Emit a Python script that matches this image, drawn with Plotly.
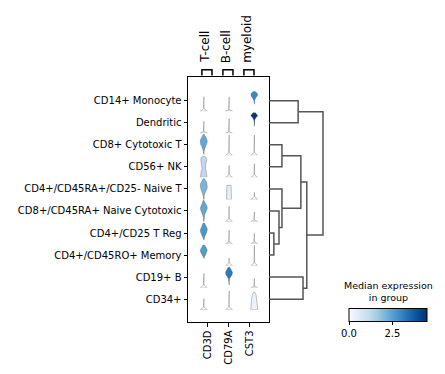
import numpy as np
import plotly.graph_objects as go

# ---------------- data ----------------
CLUSTERS = ["CD14+ Monocyte", "Dendritic", "CD8+ Cytotoxic T", "CD56+ NK",
            "CD4+/CD45RA+/CD25- Naive T", "CD8+/CD45RA+ Naive Cytotoxic",
            "CD4+/CD25 T Reg", "CD4+/CD45RO+ Memory", "CD19+ B", "CD34+"]
GENES = ["CD3D", "CD79A", "CST3"]
GENE_GROUPS = ["T-cell", "B-cell", "myeloid"]
GROUP_GENE_INDEX = [0, 1, 2]

# expression grid on which violin densities are given (width, 1 = widest)
LEVELS = [0, 0.3, 0.6, 1.0, 1.5, 2.0, 2.5, 3.0, 3.5, 4.0, 4.5, 5.0]
TRI = [1.0, 0.45, 0.08, 0.05, 0.05, 0.05, 0.05, 0.05, 0.05, 0.05, 0.05, 0.05]
TEE = [1.0, 0.12, 0.05, 0.05, 0.05, 0.05, 0.05, 0.05, 0.05, 0.05, 0.05, 0.05]

CD3D_DENSITY = [
    TRI, TEE,
    [0.08, 0.08, 0.1, 0.12, 0.3, 0.55, 0.9, 1.0, 0.95, 0.7, 0.3, 0.0],
    [0.9, 0.9, 0.9, 0.85, 0.7, 0.5, 0.45, 0.55, 0.75, 0.85, 0.7, 0.0],
    [0.1, 0.1, 0.1, 0.15, 0.4, 0.7, 0.95, 1.0, 0.95, 0.75, 0.35, 0.0],
    [0.08, 0.08, 0.08, 0.1, 0.25, 0.5, 0.8, 1.0, 0.9, 0.6, 0.3, 0.0],
    [0.0, 0.0, 0.0, 0.08, 0.25, 0.55, 0.85, 1.0, 0.95, 0.6, 0.25, 0.0],
    [0.0, 0.0, 0.0, 0.0, 0.08, 0.2, 0.55, 0.85, 1.0, 0.75, 0.3, 0.0],
    TRI, TRI,
]
CD3D_MIN = [0, 0, 0.2, 0, 0, 0, 0.8, 1.6, 0, 0]
CD3D_MAX = [3.3, 2.7, 4.7, 4.8, 4.7, 4.9, 4.65, 4.65, 3.2, 2.5]
CD3D_MEDIAN = [0, 0, 2.4, 1.2, 2.1, 2.4, 2.7, 2.6, 0, 0]

CD79A_DENSITY = [
    TEE, TEE, TRI, TRI,
    [0.72, 0.72, 0.71, 0.7, 0.68, 0.66, 0.63, 0.6, 0.57, 0.5, 0.4, 0.3],
    TRI, TEE, TRI,
    [0.0, 0.0, 0.06, 0.06, 0.08, 0.15, 0.55, 0.9, 1.0, 0.75, 0.3, 0.0],
    TRI,
]
CD79A_MIN = [0, 0, 0, 0, 0, 0, 0, 0, 0.55, 0]
CD79A_MAX = [3.2, 3.3, 4.6, 2.7, 3.2, 3.4, 3.0, 1.7, 4.65, 4.3]
CD79A_MEDIAN = [0, 0, 0, 0, 0.5, 0, 0, 0, 3.2, 0]

CST3_DENSITY = [
    [0.0, 0.0, 0.0, 0.0, 0.05, 0.08, 0.12, 0.4, 0.9, 0.9, 0.25, 0.0],
    [0.0, 0.0, 0.0, 0.0, 0.05, 0.06, 0.08, 0.12, 0.45, 1.0, 0.5, 0.0],
    TRI, TRI, TRI, TEE, TEE, TRI, TEE,
    [1.0, 0.95, 0.92, 0.9, 0.85, 0.8, 0.75, 0.7, 0.5, 0.1, 0.0, 0.0],
]
CST3_MIN = [1.6, 1.6, 0, 0, 0, 0, 0, 0, 0, 0]
CST3_MAX = [4.5, 4.65, 4.6, 3.1, 1.6, 2.2, 2.3, 4.6, 2.1, 4.0]
CST3_MEDIAN = [3.0, 4.4, 0, 0, 0, 0, 0, 0, 0, 0.3]

# dendrogram linkage: (child a, child b, height); leaves 0..9, merges 10..
LINK_A = [0, 2, 6, 5, 4, 11, 8, 15, 10]
LINK_B = [1, 3, 7, 12, 13, 14, 9, 16, 17]
LINK_H = [0.54, 0.24, 0.09, 0.185, 0.24, 0.59, 0.63, 0.70, 1.0]

CBAR_MIN, CBAR_MAX = 0.0, 4.5
CBAR_TICKS = [0.0, 2.5]
CBAR_TITLE = "Median expression<br>in group"

# ---------------- styling helpers ----------------
W, H = 445, 374
BLUES = ["#f7fbff", "#deebf7", "#c6dbef", "#9ecae1", "#6baed6",
         "#4292c6", "#2171b5", "#08519c", "#08306b"]
BLUES_SCALE = [[i / 8, c] for i, c in enumerate(BLUES)]


def blues(v):
    t = min(max((v - CBAR_MIN) / (CBAR_MAX - CBAR_MIN), 0), 1) * 8
    i = min(int(t), 7)
    f = t - i
    a = [int(BLUES[i][k:k + 2], 16) for k in (1, 3, 5)]
    b = [int(BLUES[i + 1][k:k + 2], 16) for k in (1, 3, 5)]
    c = [round(a[k] + (b[k] - a[k]) * f) for k in range(3)]
    return f"rgb({c[0]},{c[1]},{c[2]})"


def px_x(p):
    return p / W


def px_y(p):
    return 1 - p / H


HALF_W = 0.139          # widest half-width in violin-axis units
ROW_TICK0, ROW_STEP = 100.7, 22.05

fig = go.Figure()

DENS = [CD3D_DENSITY, CD79A_DENSITY, CST3_DENSITY]
MINS = [CD3D_MIN, CD79A_MIN, CST3_MIN]
MAXS = [CD3D_MAX, CD79A_MAX, CST3_MAX]
MEDS = [CD3D_MEDIAN, CD79A_MEDIAN, CST3_MEDIAN]

layout_axes = {}
for i, cl in enumerate(CLUSTERS):
    c = ROW_TICK0 + ROW_STEP * i
    yname = f"yaxis{i + 2}"
    layout_axes[yname] = dict(domain=[px_y(c + 10.5), px_y(c - 11.5)], range=[0, 5],
                              visible=False, anchor="x2")
    for j, g in enumerate(GENES):
        lo, hi = MINS[j][i], MAXS[j][i]
        lv = [lo] + [v for v in LEVELS if lo < v < hi] + [hi]
        wd = np.interp(lv, LEVELS, DENS[j][i]) * HALF_W
        xs = list(j + wd) + list((j - wd)[::-1]) + [j + wd[0]]
        ys = lv + lv[::-1] + [lv[0]]
        fig.add_trace(go.Scatter(
            x=xs, y=ys, xaxis="x2", yaxis=f"y{i + 2}", mode="lines",
            fill="toself", fillcolor=blues(MEDS[j][i]),
            line=dict(color="rgba(90,90,90,0.6)", width=0.6),
            hoverinfo="skip", showlegend=False))

# dendrogram
pos = {k: float(k) for k in range(len(CLUSTERS))}
hgt = {k: 0.0 for k in range(len(CLUSTERS))}
for m, (a, b, h) in enumerate(zip(LINK_A, LINK_B, LINK_H)):
    node = len(CLUSTERS) + m
    fig.add_trace(go.Scatter(
        x=[hgt[a], h, h, hgt[b]], y=[pos[a], pos[a], pos[b], pos[b]],
        xaxis="x3", yaxis="y", mode="lines",
        line=dict(color="#555555", width=1.5), hoverinfo="skip", showlegend=False))
    pos[node] = (pos[a] + pos[b]) / 2
    hgt[node] = h

# colorbar carrier
fig.add_trace(go.Scatter(
    x=[None], y=[None], mode="markers", xaxis="x", yaxis="y", showlegend=False,
    marker=dict(color=[CBAR_MIN], colorscale=BLUES_SCALE, cmin=CBAR_MIN, cmax=CBAR_MAX,
                showscale=True,
                colorbar=dict(orientation="h", x=px_x(388), xanchor="center",
                              y=px_y(340), yanchor="bottom", ypad=0, xpad=0,
                              len=78 / W, lenmode="fraction", thickness=13,
                              outlinewidth=1, outlinecolor="black",
                              tickvals=CBAR_TICKS, ticktext=[f"{v:.1f}" for v in CBAR_TICKS],
                              ticks="outside", ticklen=3.5, tickcolor="black",
                              tickfont=dict(size=10)))))

# gene-group brackets and labels
shapes, annotations = [], []
for gname, gi in zip(GENE_GROUPS, GROUP_GENE_INDEX):
    x0, x1 = gi - 0.05 - 0.24, gi - 0.05 + 0.24
    yb, yt = px_y(75.5), px_y(69.7)
    shapes.append(dict(type="path", xref="x", yref="paper",
                       path=f"M {x0} {yb} L {x0} {yt} L {x1} {yt} L {x1} {yb}",
                       line=dict(color="black", width=1.5)))
    annotations.append(dict(text=gname, x=gi - 0.15, xref="x", y=px_y(64), yref="paper",
                            xanchor="center", yanchor="bottom", textangle=-90,
                            showarrow=False, font=dict(size=12), borderpad=0))

annotations.append(dict(text=CBAR_TITLE, x=px_x(388), xref="paper", y=px_y(291),
                        yref="paper", xanchor="center", yanchor="middle",
                        showarrow=False, font=dict(size=9.5), borderpad=0))

axis_common = dict(showgrid=False, zeroline=False, showline=True, linecolor="black",
                   linewidth=1, mirror=True, ticks="outside", ticklen=3.5,
                   tickcolor="black")

fig.update_layout(
    width=W, height=H, margin=dict(l=0, r=0, t=0, b=0, pad=0, autoexpand=False),
    paper_bgcolor="white", plot_bgcolor="rgba(0,0,0,0)",
    font=dict(family="DejaVu Sans", size=10, color="black"),
    showlegend=False,
    xaxis=dict(domain=[px_x(188), px_x(269)], range=[-0.952, 2.905],
               tickvals=list(range(len(GENES))), ticktext=GENES, tickangle=-90,
               anchor="y", **axis_common),
    yaxis=dict(domain=[px_y(322), px_y(77)], range=[10.036, -1.075],
               tickvals=list(range(len(CLUSTERS))), ticktext=CLUSTERS,
               anchor="x", **axis_common),
    xaxis2=dict(domain=[px_x(188), px_x(269)], range=[-0.624, 2.584], visible=False,
                anchor="free", position=0),
    xaxis3=dict(domain=[px_x(269), px_x(330)], range=[0, 1.13], visible=False,
                anchor="y"),
    shapes=shapes, annotations=annotations,
    **layout_axes,
)

fig.write_html("out.html", config={"displayModeBar": False},
               post_script="document.body.style.margin='0px';"
                           "document.body.style.overflow='hidden';")
